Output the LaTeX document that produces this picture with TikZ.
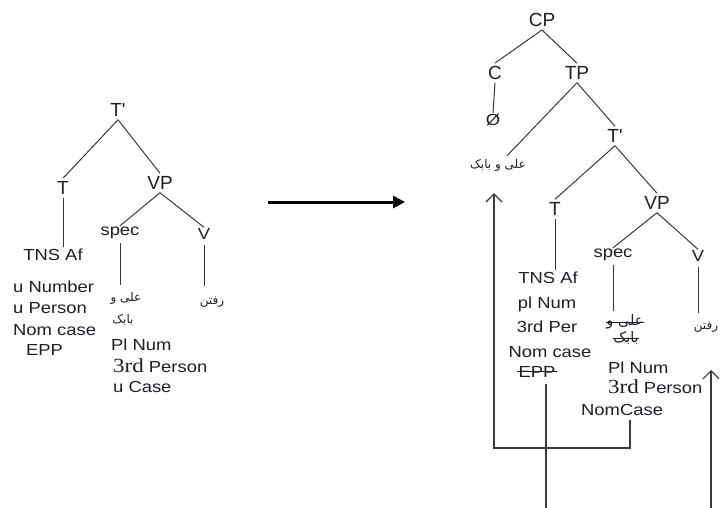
\documentclass[tikz,border=0pt]{standalone}
\usepackage{fontspec}
\usepackage{graphicx}
\setmainfont{Liberation Sans}
\newfontfamily\arfont[Script=Arabic]{DejaVu Sans}
\newfontfamily\tmfont{Liberation Serif}
\TeXXeTstate=1
\usetikzlibrary{arrows.meta}
\definecolor{txt}{HTML}{1E1E28}
\definecolor{ln}{HTML}{3A3A3A}
\newcommand{\sx}[1]{\scalebox{1.15}[1]{#1}}
\newcommand{\ar}[1]{\beginR #1\endR}
\begin{document}
\begin{tikzpicture}[x=1pt,y=-1pt,
  lab/.style={font=\fontsize{19}{22}\selectfont, inner sep=3pt, text=txt},
  ft/.style={font=\fontsize{16}{19}\selectfont, inner sep=1pt, text=txt},
  arr/.style={font=\arfont\fontsize{12}{14}\selectfont, inner sep=1pt, text=txt},
  arrbig/.style={font=\arfont\fontsize{14.5}{16}\selectfont, inner sep=0pt, text=txt},
  edge/.style={draw=ln, line width=1pt},
  bigarrow/.style={draw=black, line width=3pt, -{Triangle[length=12pt,width=12pt]}},
  mvarrow/.style={draw=ln, line width=1.2pt, -{Straight Barb[length=8pt,width=16pt,line width=1.2pt]}},
  strike/.style={draw=txt, line width=0.9pt}]
\useasboundingbox (0,0) rectangle (720,508);
\fill[white] (0,0) rectangle (720,508);

% ---------------- left tree ----------------
\node[lab] (tb1) at (118,110) {T\textquotesingle};
\node[lab] (t1) at (63,188) {T};
\node[lab] (vp1) at (160,183) {VP};
\node[ft, anchor=base] (tns1) at (53,260) {\sx{TNS Af}};
\node[ft, anchor=base west] (un1) at (12,292) {\sx{u Number}};
\node[ft, anchor=base west] (up1) at (12,313) {\sx{u Person}};
\node[ft, anchor=base west] (nc1) at (12,335) {\sx{Nom case}};
\node[ft, anchor=base west] (ep1) at (25,355) {\sx{EPP}};
\node[ft] (sp1) at (120,233) {\sx{spec}};
\node[ft] (v1) at (204,234) {\sx{V}};
\node[arr] (al1) at (126,298) {\ar{علی و}};
\node[arr] (ba1) at (123,320) {\ar{بابک}};
\node[ft, anchor=base west] (pn1) at (110,350) {\sx{Pl Num}};
\node[ft, anchor=base west] (pr1) at (112,372) {\sx{{\tmfont\fontsize{20}{22}\selectfont 3rd} Person}};
\node[ft, anchor=base west] (uc1) at (112,392) {\sx{u Case}};
\node[arr] (rf1) at (212,302) {\ar{رفتن}};

\draw[edge] (tb1.south) -- (t1.north);
\draw[edge] (tb1.south) -- (vp1.north);
\draw[edge] (t1.south) -- (tns1.north -| t1.south);
\draw[edge] (vp1.south) -- (sp1.north);
\draw[edge] (vp1.south) -- (v1.north);
\draw[edge] ([yshift=-3pt]sp1.south) -- ([yshift=6pt]al1.north -| sp1.south);
\draw[edge] ([yshift=-4pt]v1.south) -- ([yshift=10pt]rf1.north -| v1.south);

% ---------------- big arrow ----------------
\coordinate (aS) at (268,202);
\coordinate (aE) at (405,202);
\draw[bigarrow] (aS) -- (aE);

% ---------------- right tree ----------------
\node[lab] (cp) at (542,20) {CP};
\node[lab] (c) at (495,73) {C};
\node[lab] (tp) at (577,73) {TP};
\node[ft] (emp) at (493,120) {\sx{Ø}};
\node[arr] (ab) at (498,165) {\ar{علی و بابک}};
\node[lab] (tb2) at (615,136) {T\textquotesingle};
\node[lab] (t2) at (555,209) {T};
\node[lab] (vp2) at (657,203) {VP};
\node[ft, anchor=base] (tns2) at (548,283) {\sx{TNS Af}};
\node[ft, anchor=base] (pn2) at (547,308) {\sx{pl Num}};
\node[ft, anchor=base] (pr2) at (547,332) {\sx{3rd Per}};
\node[ft, anchor=base] (nc2) at (550,357) {\sx{Nom case}};
\node[ft, anchor=base] (ep2) at (537,377) {\sx{EPP}};
\node[ft] (sp2) at (613,255) {\sx{spec}};
\node[ft] (v2) at (698,256) {\sx{V}};
\node[arrbig] (al2) at (625,322) {\ar{علی و}};
\node[arrbig] (ba2) at (626,338) {\ar{بابک}};
\node[ft, anchor=base west] (pln2) at (607,373) {\sx{Pl Num}};
\node[ft, anchor=base west] (prs2) at (607,393) {\sx{{\tmfont\fontsize{20}{22}\selectfont 3rd} Person}};
\node[ft, anchor=base west] (nmc2) at (580,415) {\sx{NomCase}};
\node[arr] (rf2) at (706,327) {\ar{رفتن}};

\draw[edge] (cp.south) -- (c.north);
\draw[edge] (cp.south) -- (tp.north);
\draw[edge] (c.south) -- (emp.north);
\draw[edge] (tp.south) -- ([xshift=9pt,yshift=2pt]ab.north);
\draw[edge] (tp.south) -- (tb2.north);
\draw[edge] (tb2.south) -- (t2.north);
\draw[edge] (tb2.south) -- (vp2.north);
\draw[edge] (t2.south) -- (tns2.north -| t2.south);
\draw[edge] (vp2.south) -- (sp2.north);
\draw[edge] (vp2.south) -- (v2.north);
\draw[edge] ([yshift=-3pt]sp2.south) -- ([yshift=4pt]al2.north -| sp2.south);
\draw[edge] ([yshift=-4pt]v2.south) -- ([yshift=8pt]rf2.north -| v2.south);

% strike-throughs
\draw[strike] (ep2.west) -- (ep2.east);
\draw[strike] (al2.west) -- (al2.east);
\draw[strike] (ba2.west) -- (ba2.east);

% movement lines
\coordinate (cN) at (630,448);
\coordinate (bE) at (546,508);
\coordinate (bR) at (711,508);
\coordinate (tR) at (711,370);
\draw[mvarrow, shorten >=21pt] ([yshift=-4pt]nmc2.south -| cN) -- (cN) -| ([xshift=-4pt]ab.south);
\draw[edge, line width=1.2pt] ([yshift=-6pt]ep2.south -| bE) -- (bE);
\draw[mvarrow] (bR) -- (tR);
\end{tikzpicture}
\end{document}
